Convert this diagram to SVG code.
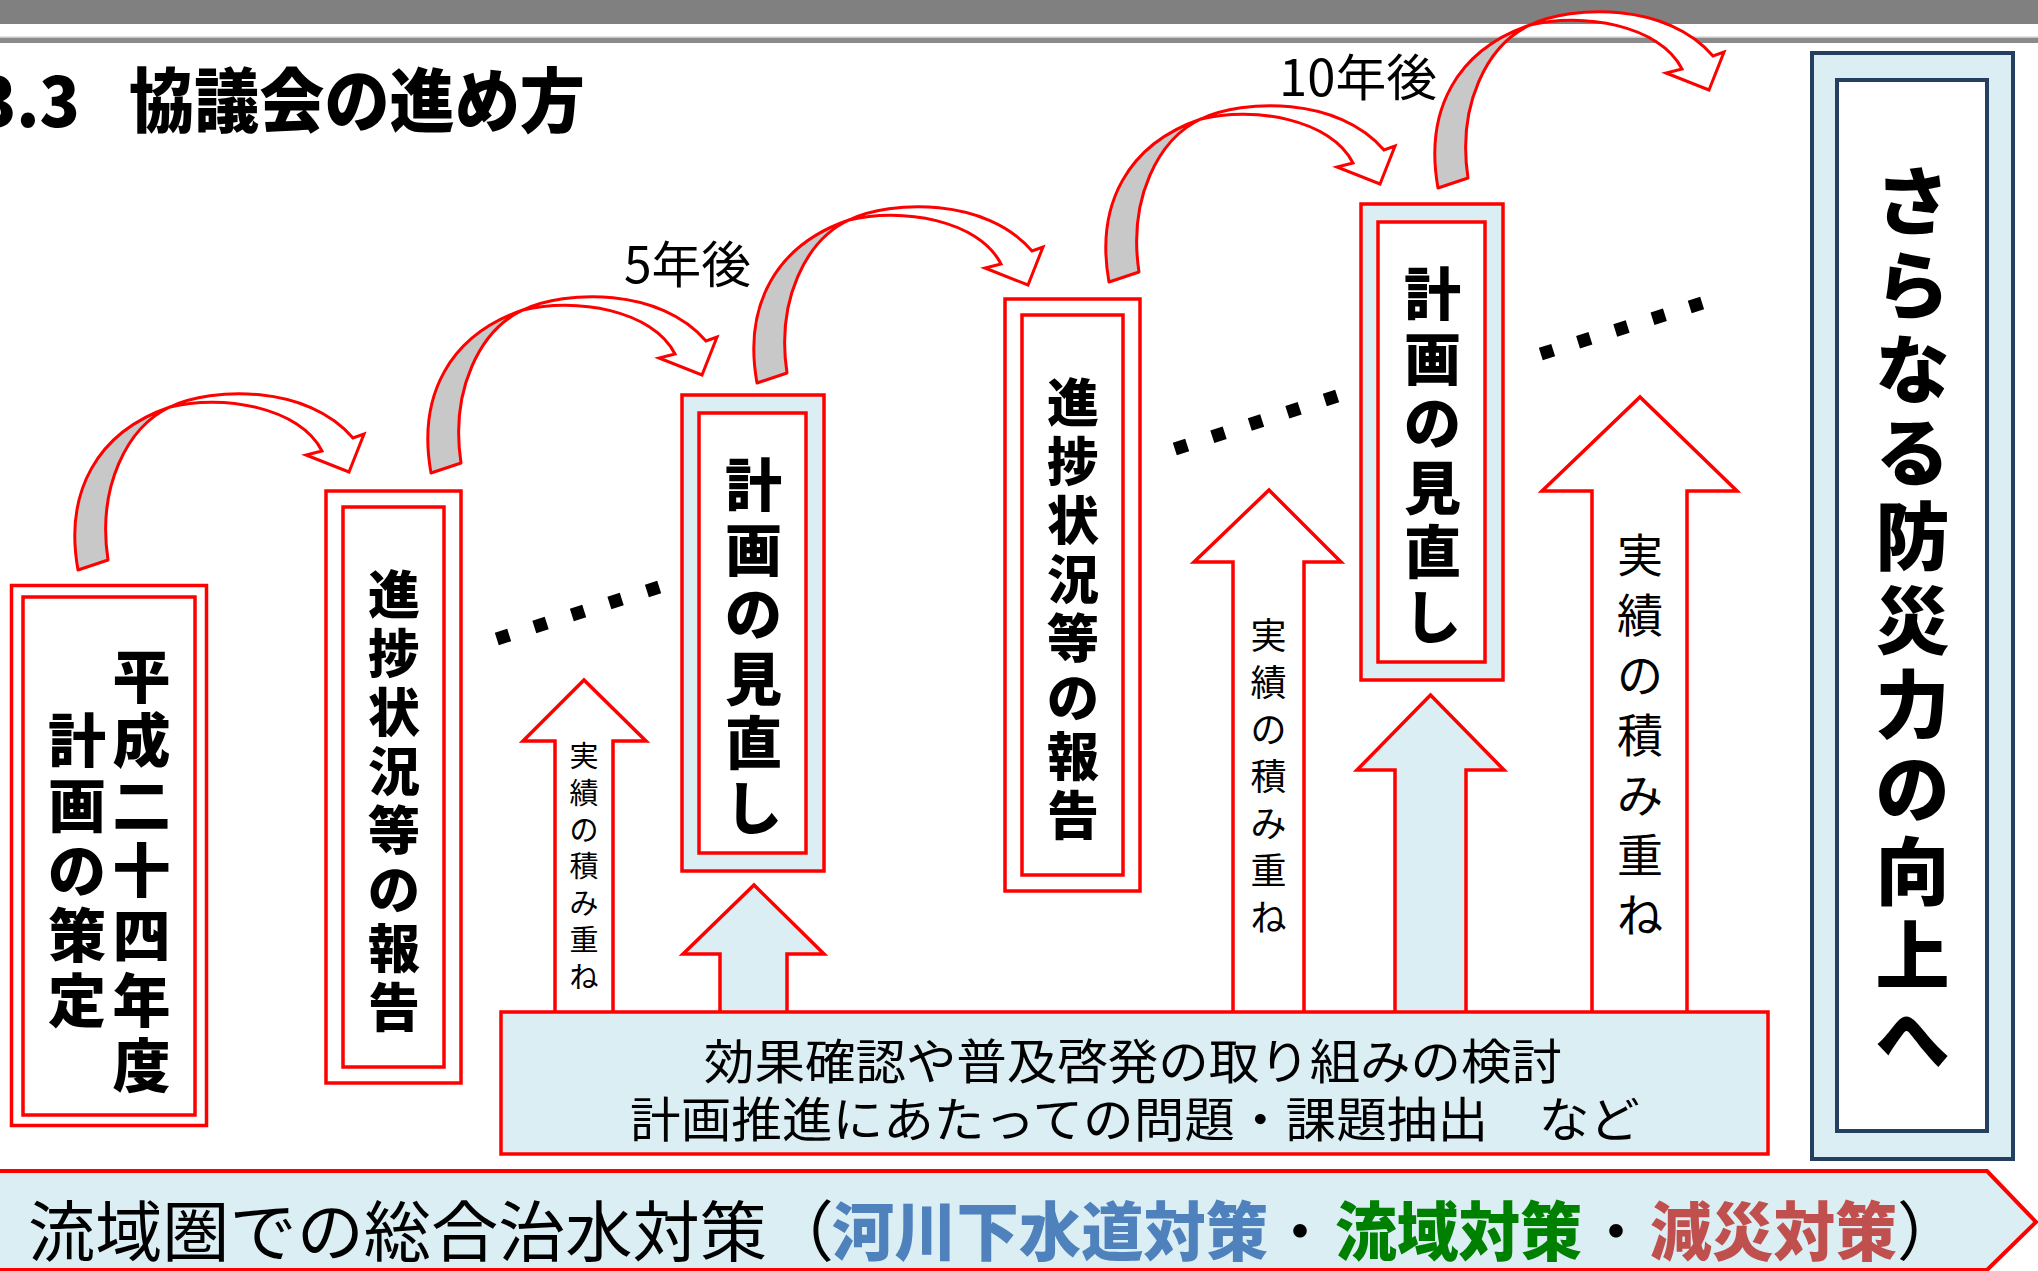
<svg xmlns="http://www.w3.org/2000/svg" width="2038" height="1271" viewBox="0 0 2038 1271">
<style>
.rw{fill:#fff;stroke:#f00;stroke-width:3.5}
.rb{fill:#DAEEF3;stroke:#f00;stroke-width:3.5}
.nw{fill:#fff;stroke:#243F60;stroke-width:4}
.nb{fill:#DAEEF3;stroke:#243F60;stroke-width:4}
.heavy{font-family:"Noto Sans CJK JP","Noto Sans CJK SC",sans-serif;font-weight:900;fill:#000;text-anchor:middle;dominant-baseline:central}
.thin{font-family:"Noto Sans CJK JP","Noto Sans CJK SC",sans-serif;font-weight:400;fill:#000}
.vt{text-anchor:middle;dominant-baseline:central}
.ag{fill:#C8C8C8;stroke:#f00;stroke-width:3;stroke-linejoin:round}
.aw{fill:#fff;stroke:#f00;stroke-width:3;stroke-linejoin:miter}
.up{stroke:#f00;stroke-width:3.5;stroke-linejoin:miter}
.dots{stroke:#000;stroke-width:13;fill:none}
</style>
<defs>
<g id="curve">
<path class="ag" d="M6,178 C-8,100 25,40 98,15 C55,35 25,95 36,168 Z"/>
<path class="aw" d="M98,15 C140,-5 235,-8 281,46 L292,42 L277,80 L234,63 L250,59 C228,15 150,2 98,15 Z"/>
</g>
</defs>
<rect width="2038" height="1271" fill="#fff"/>
<g id="header">
<rect x="0" y="0" width="2038" height="24" fill="#808080"/>
<rect x="0" y="36.5" width="2038" height="1.5" fill="#c8c8c8"/>
<rect x="0" y="38" width="2038" height="5" fill="#8a8a8a"/>
<text class="heavy" x="-24" y="96" font-size="70" style="text-anchor:start" textLength="104" lengthAdjust="spacingAndGlyphs">3.3</text>
<text class="heavy" x="129" y="96" font-size="70" style="text-anchor:start" textLength="456" lengthAdjust="spacingAndGlyphs">協議会の進め方</text>
</g>

<g id="up-arrows">
<polygon class="up" fill="#fff" points="555,1014 555,741 523,741 584,680 646,741 613,741 613,1014"/>
<polygon class="up" fill="#DAEEF3" points="720,1014 720,954 683,954 754,885 824,954 787,954 787,1014"/>
<polygon class="up" fill="#fff" points="1233,1014 1233,562 1194,562 1269,490 1341,562 1304,562 1304,1014"/>
<polygon class="up" fill="#DAEEF3" points="1395,1014 1395,770 1357,770 1430.5,695 1504,770 1466,770 1466,1014"/>
<polygon class="up" fill="#fff" points="1592,1014 1592,491 1542,491 1640,397 1737,491 1687,491 1687,1014"/>
<text class="thin vt" font-size="29"><tspan x="584" y="754">実</tspan><tspan x="584" y="790.8">績</tspan><tspan x="584" y="827.6">の</tspan><tspan x="584" y="864.4">積</tspan><tspan x="584" y="901.2">み</tspan><tspan x="584" y="938">重</tspan><tspan x="584" y="974.8">ね</tspan></text>
<text class="thin vt" font-size="36"><tspan x="1268.5" y="633">実</tspan><tspan x="1268.5" y="680">績</tspan><tspan x="1268.5" y="727">の</tspan><tspan x="1268.5" y="774">積</tspan><tspan x="1268.5" y="821">み</tspan><tspan x="1268.5" y="868">重</tspan><tspan x="1268.5" y="915">ね</tspan></text>
<text class="thin vt" font-size="46"><tspan x="1640" y="552">実</tspan><tspan x="1640" y="612">績</tspan><tspan x="1640" y="672">の</tspan><tspan x="1640" y="732">積</tspan><tspan x="1640" y="792">み</tspan><tspan x="1640" y="852">重</tspan><tspan x="1640" y="912">ね</tspan></text>
</g>

<g id="node-plan-2012">
<rect class="rw" x="11.5" y="585.5" width="195" height="540"/>
<rect class="rw" x="23" y="597" width="172" height="518"/>
<text class="heavy" font-size="58"><tspan x="141.5" y="672.5">平</tspan><tspan x="141.5" y="737.4">成</tspan><tspan x="141.5" y="802.3">二</tspan><tspan x="141.5" y="867.2">十</tspan><tspan x="141.5" y="932.1">四</tspan><tspan x="141.5" y="997">年</tspan><tspan x="141.5" y="1061.9">度</tspan></text>
<text class="heavy" font-size="58"><tspan x="77" y="737.4">計</tspan><tspan x="77" y="802.3">画</tspan><tspan x="77" y="867.2">の</tspan><tspan x="77" y="932.1">策</tspan><tspan x="77" y="997">定</tspan></text>
</g>

<g id="node-report-1">
<rect class="rw" x="326" y="491" width="135" height="592"/>
<rect class="rw" x="343" y="507" width="101" height="560"/>
<text class="heavy" font-size="52"><tspan x="394" y="591">進</tspan><tspan x="394" y="650">捗</tspan><tspan x="394" y="709">状</tspan><tspan x="394" y="768">況</tspan><tspan x="394" y="827">等</tspan><tspan x="394" y="886">の</tspan><tspan x="394" y="945">報</tspan><tspan x="394" y="1004">告</tspan></text>
</g>

<g id="node-review-1">
<rect class="rb" x="682" y="395" width="142" height="476"/>
<rect class="rw" x="699" y="413" width="107" height="440"/>
<text class="heavy" font-size="57"><tspan x="753.5" y="481">計</tspan><tspan x="753.5" y="545.5">画</tspan><tspan x="753.5" y="610">の</tspan><tspan x="753.5" y="674.5">見</tspan><tspan x="753.5" y="739">直</tspan><tspan x="753.5" y="803.5">し</tspan></text>
</g>

<g id="node-report-2">
<rect class="rw" x="1005" y="299" width="135" height="592"/>
<rect class="rw" x="1022" y="315" width="101" height="560"/>
<text class="heavy" font-size="52"><tspan x="1073" y="399">進</tspan><tspan x="1073" y="458">捗</tspan><tspan x="1073" y="517">状</tspan><tspan x="1073" y="576">況</tspan><tspan x="1073" y="635">等</tspan><tspan x="1073" y="694">の</tspan><tspan x="1073" y="753">報</tspan><tspan x="1073" y="812">告</tspan></text>
</g>

<g id="node-review-2">
<rect class="rb" x="1361" y="204" width="142" height="476"/>
<rect class="rw" x="1378" y="222" width="107" height="440"/>
<text class="heavy" font-size="57"><tspan x="1432.5" y="290">計</tspan><tspan x="1432.5" y="354.5">画</tspan><tspan x="1432.5" y="419">の</tspan><tspan x="1432.5" y="483.5">見</tspan><tspan x="1432.5" y="548">直</tspan><tspan x="1432.5" y="612.5">し</tspan></text>
</g>

<g id="node-goal">
<rect class="nb" x="1812" y="53" width="201" height="1106"/>
<rect class="nw" x="1837" y="80" width="150" height="1051"/>
<text class="heavy" font-size="74"><tspan x="1912.5" y="196">さ</tspan><tspan x="1912.5" y="279.8">ら</tspan><tspan x="1912.5" y="363.6">な</tspan><tspan x="1912.5" y="447.4">る</tspan><tspan x="1912.5" y="531.2">防</tspan><tspan x="1912.5" y="615">災</tspan><tspan x="1912.5" y="698.8">力</tspan><tspan x="1912.5" y="782.6">の</tspan><tspan x="1912.5" y="866.4">向</tspan><tspan x="1912.5" y="950.2">上</tspan><tspan x="1912.5" y="1034">へ</tspan></text>
</g>

<g id="node-tasks">
<rect class="rb" x="501" y="1012" width="1267" height="142"/>
<text class="thin" x="1133" y="1058" font-size="48" text-anchor="middle" dominant-baseline="central" textLength="858" lengthAdjust="spacingAndGlyphs">効果確認や普及啓発の取り組みの検討</text>
<text class="thin" x="1135" y="1116" font-size="48" text-anchor="middle" dominant-baseline="central" textLength="1010" lengthAdjust="spacingAndGlyphs">計画推進にあたっての問題・課題抽出　など</text>
</g>

<g id="connectors">
<use href="#curve" transform="translate(72,392)"/>
<use href="#curve" transform="translate(425,295)"/>
<use href="#curve" transform="translate(751,205)"/>
<use href="#curve" transform="translate(1103,104)"/>
<use href="#curve" transform="translate(1432,10)"/>
<line class="dots" x1="496.8" y1="639" x2="659.2" y2="587" stroke-dasharray="13 26.4"/>
<line class="dots" x1="1174.8" y1="449" x2="1337.2" y2="396" stroke-dasharray="13 26.45"/>
<line class="dots" x1="1540.8" y1="354" x2="1702.2" y2="303" stroke-dasharray="13 26.05"/>
<text class="thin" x="624" y="261" font-size="50" dominant-baseline="central" textLength="127" lengthAdjust="spacingAndGlyphs">5年後</text>
<text class="thin" x="1279" y="74" font-size="50" dominant-baseline="central" textLength="158" lengthAdjust="spacingAndGlyphs">10年後</text>
</g>

<g id="banner">
<polygon points="-5,1171 1987,1171 2036,1222 1987,1270 -5,1270" fill="#DAEEF3" stroke="#f00" stroke-width="4"/>
<text class="thin" x="28" y="1227" font-size="66" dominant-baseline="central" textLength="806" lengthAdjust="spacingAndGlyphs">流域圏での総合治水対策（</text>
<text x="832" y="1227" font-size="64" dominant-baseline="central" font-family="'Noto Sans CJK JP',sans-serif" font-weight="900" fill="#4F81BD" textLength="436" lengthAdjust="spacingAndGlyphs">河川下水道対策</text>
<text class="thin" x="1268" y="1227" font-size="64" dominant-baseline="central">・</text>
<text x="1335" y="1227" font-size="64" dominant-baseline="central" font-family="'Noto Sans CJK JP',sans-serif" font-weight="900" fill="#008000" textLength="247" lengthAdjust="spacingAndGlyphs">流域対策</text>
<text class="thin" x="1584" y="1227" font-size="64" dominant-baseline="central">・</text>
<text x="1650" y="1227" font-size="64" dominant-baseline="central" font-family="'Noto Sans CJK JP',sans-serif" font-weight="900" fill="#C0504D" textLength="247" lengthAdjust="spacingAndGlyphs">減災対策</text>
<text class="thin" x="1897" y="1227" font-size="64" dominant-baseline="central">）</text>
</g>
</svg>
